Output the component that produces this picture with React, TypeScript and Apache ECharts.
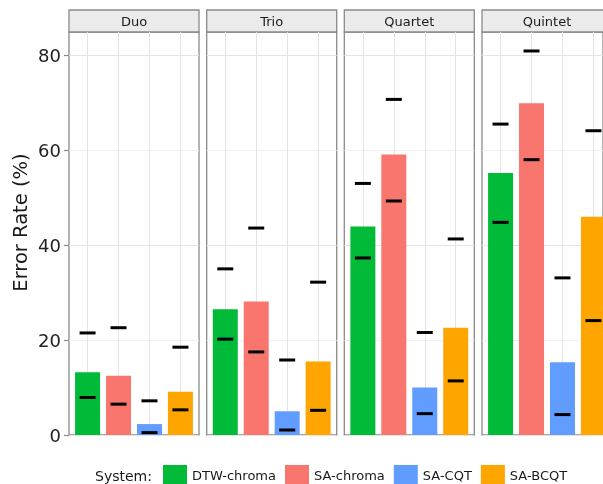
import React, { useEffect, useRef } from "react";
import * as echarts from "echarts";

const panels = ["Duo", "Trio", "Quartet", "Quintet"];
const systems = ["DTW-chroma", "SA-chroma", "SA-CQT", "SA-BCQT"];
const colors = ["#00BA38", "#F8766D", "#619CFF", "#FFA500"];

const rateDuo = [13.2, 12.5, 2.3, 9.1];
const rateTrio = [26.5, 28.1, 5.0, 15.5];
const rateQuartet = [43.9, 59.1, 10.0, 22.6];
const rateQuintet = [55.2, 69.9, 15.3, 46.0];

const upperDuo = [21.5, 22.6, 7.2, 18.5];
const upperTrio = [35.0, 43.6, 15.8, 32.2];
const upperQuartet = [53.0, 70.7, 21.6, 41.3];
const upperQuintet = [65.5, 80.9, 33.1, 64.1];

const lowerDuo = [7.9, 6.5, 0.5, 5.3];
const lowerTrio = [20.2, 17.5, 1.05, 5.2];
const lowerQuartet = [37.3, 49.3, 4.5, 11.4];
const lowerQuintet = [44.8, 58.0, 4.3, 24.1];

const yTicks = [0, 20, 40, 60, 80];

const rates = [rateDuo, rateTrio, rateQuartet, rateQuintet];
const uppers = [upperDuo, upperTrio, upperQuartet, upperQuintet];
const lowers = [lowerDuo, lowerTrio, lowerQuartet, lowerQuintet];

const FONT = "DejaVu Sans";
const Y_MAX = 84.9;
const PANEL_LEFTS = [69, 206.7, 344.3, 482];
const PANEL_W = 130;
const TOP = 32;
const H = 403;
const UNIT = PANEL_W / 4.2;

export default function App() {
  const ref = useRef<HTMLDivElement>(null);
  useEffect(() => {
    if (!ref.current) return;
    const chart = echarts.init(ref.current, null, { renderer: "svg" });

    const grids: any[] = [];
    const xAxes: any[] = [];
    const yAxes: any[] = [];
    const series: any[] = [];
    const graphics: any[] = [];

    panels.forEach((p, i) => {
      const left = PANEL_LEFTS[i];
      grids.push({
        left,
        top: TOP,
        width: PANEL_W,
        height: H,
        show: true,
        borderColor: "#8a8a8a",
        borderWidth: 1.3,
        backgroundColor: "transparent",
      });
      xAxes.push({ gridIndex: i, type: "value", show: false, min: 0, max: 1 });
      yAxes.push({
        gridIndex: i,
        type: "value",
        min: 0,
        max: Y_MAX,
        interval: 10,
        axisLine: { show: false },
        axisTick: {
          show: i === 0,
          length: 5,
          customValues: yTicks,
          lineStyle: { color: "#8a8a8a", width: 1.2 },
        },
        axisLabel: {
          show: i === 0,
          customValues: yTicks,
          fontSize: 18,
          color: "#222",
          fontFamily: FONT,
          margin: 8,
        },
        splitLine: {
          show: true,
          lineStyle: { color: ["#e4e4e4", "#efefef"], width: 1 },
        },
      });
      graphics.push({
        type: "rect",
        shape: { x: left, y: 10, width: PANEL_W, height: 22 },
        style: { fill: "#ebebeb", stroke: "#8a8a8a", lineWidth: 1.3 },
      });
      graphics.push({
        type: "text",
        x: left + PANEL_W / 2,
        y: 21,
        style: {
          text: p,
          fontSize: 13,
          fontFamily: FONT,
          fill: "#1a1a1a",
          align: "center",
          verticalAlign: "middle",
        },
      });
    });

    panels.forEach((p, i) => {
      const left = PANEL_LEFTS[i];
      const gi = 4 + i;
      grids.push({
        left: left + 0.6 * UNIT,
        top: TOP,
        width: 3 * UNIT,
        height: H,
      });
      xAxes.push({
        gridIndex: gi,
        type: "category",
        data: systems,
        boundaryGap: false,
        axisLine: { show: false },
        axisTick: { show: false },
        axisLabel: { show: false },
        splitLine: {
          show: true,
          interval: 0,
          lineStyle: { color: "#e4e4e4", width: 1 },
        },
      });
      yAxes.push({ gridIndex: gi, type: "value", min: 0, max: Y_MAX, show: false });

      systems.forEach((s, j) => {
        series.push({
          type: "bar",
          name: s,
          xAxisIndex: gi,
          yAxisIndex: gi,
          data: systems.map((_, k) => (k === j ? rates[i][j] : null)),
          barWidth: 25,
          barGap: "-100%",
          clip: false,
          itemStyle: { color: colors[j] },
        });
      });
      series.push({
        type: "scatter",
        xAxisIndex: gi,
        yAxisIndex: gi,
        symbol: "rect",
        symbolSize: [16, 3],
        clip: false,
        z: 5,
        itemStyle: { color: "#000", opacity: 1 },
        data: [
          ...uppers[i].map((v, k) => [k, v]),
          ...lowers[i].map((v, k) => [k, v]),
        ],
      });
    });

    graphics.push({
      type: "text",
      x: 20,
      y: 222.5,
      rotation: Math.PI / 2,
      style: {
        text: "Error Rate (%)",
        fontSize: 19.5,
        fontFamily: FONT,
        fill: "#1a1a1a",
        align: "center",
        verticalAlign: "middle",
      },
    });
    graphics.push({
      type: "text",
      x: 95,
      y: 476,
      style: {
        text: "System:",
        fontSize: 14,
        fontFamily: FONT,
        fill: "#1a1a1a",
        align: "left",
        verticalAlign: "middle",
      },
    });

    chart.setOption({
      animation: false,
      textStyle: { fontFamily: FONT },
      grid: grids,
      xAxis: xAxes,
      yAxis: yAxes,
      series,
      legend: {
        left: 163,
        top: 465,
        padding: 0,
        itemWidth: 24,
        itemHeight: 20,
        itemGap: 9,
        icon: "rect",
        data: systems,
        textStyle: { fontSize: 13, color: "#1a1a1a", fontFamily: FONT },
      },
      graphic: graphics,
    });
    return () => chart.dispose();
  }, []);
  return (
    <div
      ref={ref}
      style={{ position: "fixed", left: 0, top: 0, width: 603, height: 484 }}
    />
  );
}
